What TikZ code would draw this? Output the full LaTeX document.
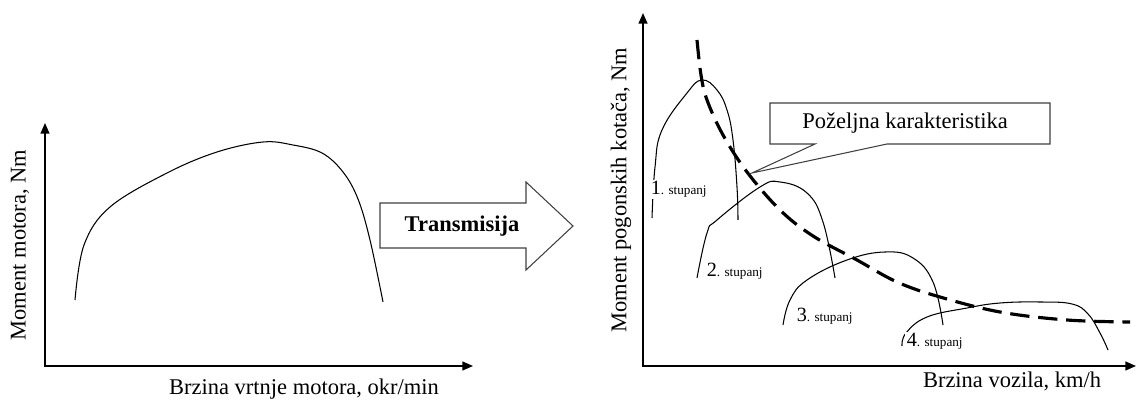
\documentclass[tikz,border=0pt]{standalone}
\usepackage{fontspec}
\setmainfont{Liberation Serif}
\usetikzlibrary{arrows.meta}
\begin{document}
\begin{tikzpicture}[x=0.02cm,y=-0.02cm,
    axis/.style={line width=0.9pt,{Triangle[length=6pt,width=5pt]}-{Triangle[length=6pt,width=5pt]}},
    curve/.style={line width=0.6pt},
    ideal/.style={line width=1.8pt,dash pattern=on 11pt off 5pt},
    gear/.style={anchor=base west,fill=white,inner sep=0.8pt},
    lbl/.style={font=\fontsize{12.8}{15}\selectfont}]
    \pgfmathsetmacro{\xa}{45}
    \pgfmathsetmacro{\xb}{643}
    \pgfmathsetmacro{\yo}{366}
    \useasboundingbox (0,0) rectangle (1138,401);
    \coordinate (ytopA) at (\xa,123);
    \coordinate (xendA) at (473,\yo);
    \coordinate (ytopB) at (\xb,13);
    \coordinate (xendB) at (1136,\yo);
    \draw[axis] (ytopA) |- (xendA);
    \draw[axis] (ytopB) |- (xendB);
    \node[lbl,rotate=90] (ylabA) at (20,245) {Moment motora, Nm};
    \node[lbl] (xlabA) at (304,389) {Brzina vrtnje motora, okr/min};
    \node[lbl,rotate=90] (ylabB) at (621,190) {Moment pogonskih kota\v{c}a, Nm};
    \node[lbl] (xlabB) at (1012,381) {Brzina vozila, km/h};
    \draw[curve] plot[smooth,tension=0.6] coordinates {(75,300) (84,245)
      (110,207) (167,173) (217,152) (263,142) (293,145) (322,153) (343,172)
      (358,199) (370,240) (383,302)};
    \draw[line width=0.6pt,draw=black!75] (380,203) -- (526,203) -- (526,182)
      -- (573,226) -- (526,270) -- (526,248) -- (380,248) -- cycle;
    \node[lbl,font=\fontsize{12.8}{15}\selectfont\bfseries] (trans) at (462,226) {Transmisija};
    \draw[curve] plot[smooth,tension=0.7] coordinates {(652,218) (655,167) (662,130)
      (687,93) (702,80) (717,90) (727,110) (733,140) (737,187) (738,220)};
    \draw[curve] plot[smooth,tension=0.7] coordinates {(697,278) (707,233) (717,220)
      (760,187) (780,182) (807,193) (823,222) (835,278)};
    \draw[curve] plot[smooth,tension=0.7] coordinates {(783,325) (790,300) (807,280)
      (847,260) (885,252) (913,258) (933,282) (943,325)};
    \draw[curve] plot[smooth,tension=0.7] coordinates {(902,346) (906,333) (927,317)
      (967,308) (1000,303) (1040,302) (1072,304) (1088,314) (1100,333) (1108,350)};
    \draw[ideal] plot[smooth,tension=0.6] coordinates {(697,40) (701,75) (707,100)
      (723,135) (747,172) (780,210) (813,236) (857,260) (897,282) (940,297)
      (1000,312) (1067,320) (1130,322)};
    \node[gear] (g1) at (649,195) {\fontsize{11.5}{12}\selectfont 1\fontsize{7.5}{9}\selectfont. stupanj};
    \node[gear] (g2) at (705,277) {\fontsize{11.5}{12}\selectfont 2\fontsize{7.5}{9}\selectfont. stupanj};
    \node[gear] (g3) at (795,322) {\fontsize{11.5}{12}\selectfont 3\fontsize{7.5}{9}\selectfont. stupanj};
    \node[gear] (g4) at (905,347) {\fontsize{11.5}{12}\selectfont 4\fontsize{7.5}{9}\selectfont. stupanj};
    \draw[line width=0.6pt,draw=black!75,fill=white] (770,103) -- (1050,103) -- (1050,144)
      -- (887,144) -- (752,173) -- (815,144) -- (770,144) -- cycle;
    \node[lbl] (ideal) at (905,123) {Po\v{z}eljna karakteristika};
\end{tikzpicture}
\end{document}
